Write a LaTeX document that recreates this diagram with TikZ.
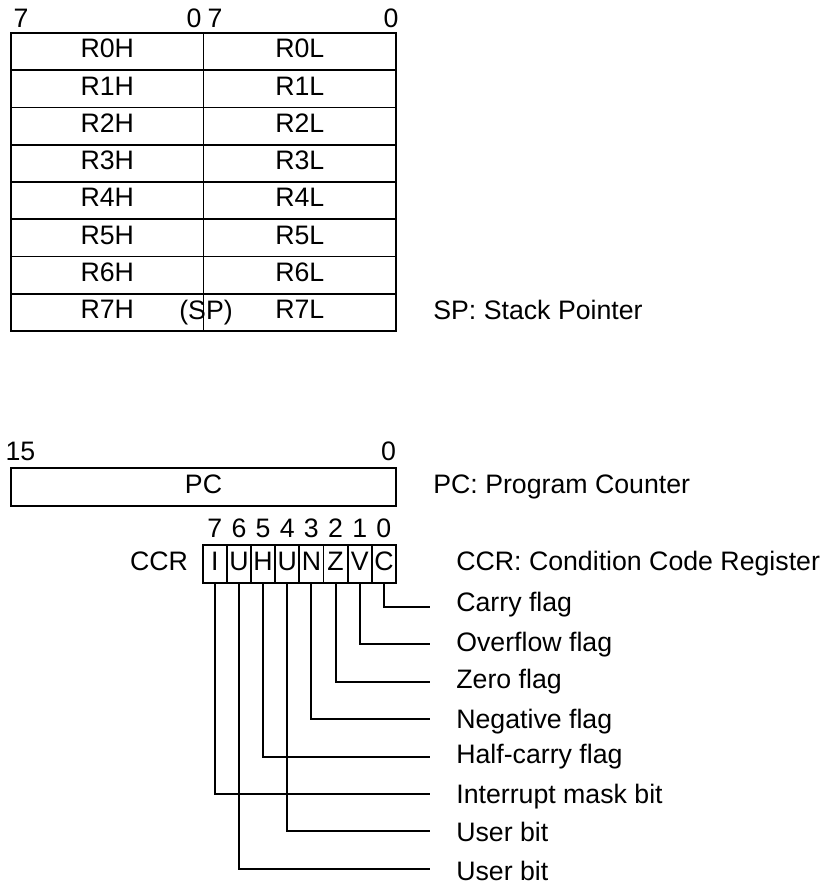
\documentclass[tikz,border=0pt]{standalone}
\usepackage{fontspec}
\setmainfont{Liberation Sans}
\usetikzlibrary{positioning}

\tikzset{
  txt/.style={inner sep=0pt, text height=0.72em, text depth=0pt},
  cell/.style={txt, draw, line width=1.1pt, minimum width=3.85cm, minimum height=0.745cm},
  bitbox/.style={txt, draw, line width=1.1pt, minimum width=0.4833cm, minimum height=0.76cm},
  lead/.style={line width=1.1pt},
}

\begin{document}
\begin{tikzpicture}[x=0.02cm, y=-0.02cm, font=\fontsize{15.2}{18}\selectfont]
    \useasboundingbox (0,0) rectangle (822,890);
    % general registers
    \node[txt] (hi7) at (21,21) {7};
    \node[txt] (hi0) at (194,21) {0};
    \node[txt] (lo7) at (215,21) {7};
    \node[txt] (lo0) at (391,21) {0};
    \foreach \i in {0,...,7} {
      \node[cell] (rh\i) at (107.25, {33+37.25*(\i+0.5)}) {R\i H};
      \node[cell] (rl\i) at (299.75, {33+37.25*(\i+0.5)}) {R\i L};
    }
    \node[txt] (sp) at (206,313) {(SP)};
    \node[txt, anchor=west] (splab) at (433,313) {SP: Stack Pointer};
    % program counter
    \node[txt] (pc15) at (20.5,454) {15};
    \node[txt] (pc0) at (388.5,454) {0};
    \node[txt, draw, line width=1.1pt, minimum width=7.7cm, minimum height=0.76cm] (pc) at (203.5,487) {PC};
    \node[txt, anchor=west] (pclab) at (433,487) {PC: Program Counter};
    % condition code register
    \node[txt] (ccr) at (159,564) {CCR};
    \foreach \b/\t [count=\k from 0] in {7/I,6/U,5/H,4/U,3/N,2/Z,1/V,0/C} {
      \node[bitbox] (b\b) at ({202.7+24.16*(\k+0.5)},564) {\t};
      \node[txt] (n\b) at ({202.7+24.16*(\k+0.5)},531.5) {\b};
    }
    \node[txt, anchor=west] (ccrlab) at (456,564) {CCR: Condition Code Register};
    \foreach \b/\ly/\ty/\name in {0/607/605/Carry flag, 1/644/645/Overflow flag,
        2/682/682/Zero flag, 3/719/722/Negative flag, 5/757/757/Half-carry flag,
        7/794/797/Interrupt mask bit, 4/831/835/User bit, 6/869/874/User bit} {
      \coordinate (e\b) at (430,\ly);
      \node[txt, anchor=west] (f\b) at (456,\ty) {\name};
      \draw[lead] (b\b.south) |- (e\b);
    }
\end{tikzpicture}
\end{document}
